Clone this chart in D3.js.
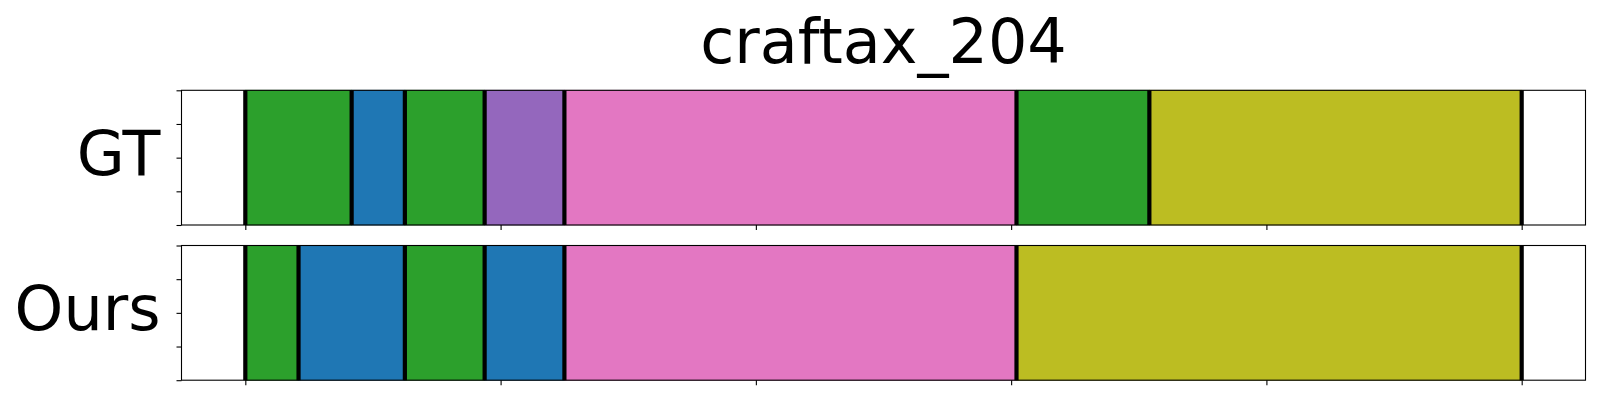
<!DOCTYPE html>
<html>
<head>
<meta charset="utf-8">
<script src="https://cdn.jsdelivr.net/npm/d3@7"></script>
<style>
  html, body { margin: 0; padding: 0; background: #fff; }
  svg { display: block; }
  text { font-family: "DejaVu Sans", sans-serif; fill: #000; }
</style>
</head>
<body>
<svg id="chart" width="1600" height="400"></svg>
<script>
// ---- data ----
const title = "craftax_204";
const rowLabels = ["GT", "Ours"];
// segment boundaries (percent of episode)
const gtBounds = [0, 8.33, 12.5, 18.75, 25, 60.42, 70.83, 100];
const gtColors = ["#2ca02c", "#1f77b4", "#2ca02c", "#9467bd", "#e377c2", "#2ca02c", "#bcbd22"];
const oursBounds = [0, 4.17, 12.5, 18.75, 25, 60.42, 100];
const oursColors = ["#2ca02c", "#1f77b4", "#2ca02c", "#1f77b4", "#e377c2", "#bcbd22"];
const xTicks = [0, 20, 40, 60, 80, 100];
const yTicks = [0, 0.25, 0.5, 0.75, 1];
const xDomain = [-5, 105];

const rows = [
  { label: rowLabels[0], bounds: gtBounds, colors: gtColors },
  { label: rowLabels[1], bounds: oursBounds, colors: oursColors }
];

// ---- layout ----
const svg = d3.select("#chart");
const left = 181.5, right = 1585.5;
const panelTops = [90.3, 245.5];
const panelH = 134.7;

const x = d3.scaleLinear().domain(xDomain).range([left, right]);

svg.append("text")
  .attr("x", (left + right) / 2)
  .attr("y", 62.5)
  .attr("text-anchor", "middle")
  .style("font-size", "62px")
  .text(title);

rows.forEach((row, i) => {
  const top = panelTops[i];
  const y = d3.scaleLinear().domain([0, 1]).range([top + panelH, top]);
  const g = svg.append("g");

  const segs = row.colors.map((c, k) => ({ x0: row.bounds[k], x1: row.bounds[k + 1], c }));
  g.selectAll("rect.seg").data(segs).join("rect")
    .attr("class", "seg")
    .attr("x", d => x(d.x0))
    .attr("width", d => x(d.x1) - x(d.x0))
    .attr("y", y(1))
    .attr("height", y(0) - y(1))
    .attr("fill", d => d.c)
    .attr("stroke", d => d3.color(d.c).darker(0.35))
    .attr("stroke-width", 0.8);

  g.selectAll("line.bound").data(row.bounds).join("line")
    .attr("class", "bound")
    .attr("x1", d => x(d)).attr("x2", d => x(d))
    .attr("y1", y(0)).attr("y2", y(1))
    .attr("stroke", "#000")
    .attr("stroke-width", 4.2);

  // axes
  const xAxis = d3.axisBottom(x).tickValues(xTicks).tickFormat("").tickSize(5).tickSizeOuter(0);
  const gx = g.append("g").attr("transform", `translate(0,${y(0)})`).call(xAxis);
  gx.select(".domain").remove();
  gx.selectAll(".tick line").attr("stroke", "#000").attr("stroke-width", 1.1);

  const yAxis = d3.axisLeft(y).tickValues(yTicks).tickFormat("").tickSize(5).tickSizeOuter(0);
  const gy = g.append("g").attr("transform", `translate(${left},0)`).call(yAxis);
  gy.select(".domain").remove();
  gy.selectAll(".tick line").attr("stroke", "#000").attr("stroke-width", 1.1);

  // frame
  g.append("rect")
    .attr("x", left).attr("y", y(1))
    .attr("width", right - left).attr("height", y(0) - y(1))
    .attr("fill", "none").attr("stroke", "#000").attr("stroke-width", 1.1);

  svg.append("text")
    .attr("x", 160.5)
    .attr("y", top + panelH / 2 + 17.3)
    .attr("text-anchor", "end")
    .style("font-size", "62px")
    .text(row.label);
});
</script>
</body>
</html>
